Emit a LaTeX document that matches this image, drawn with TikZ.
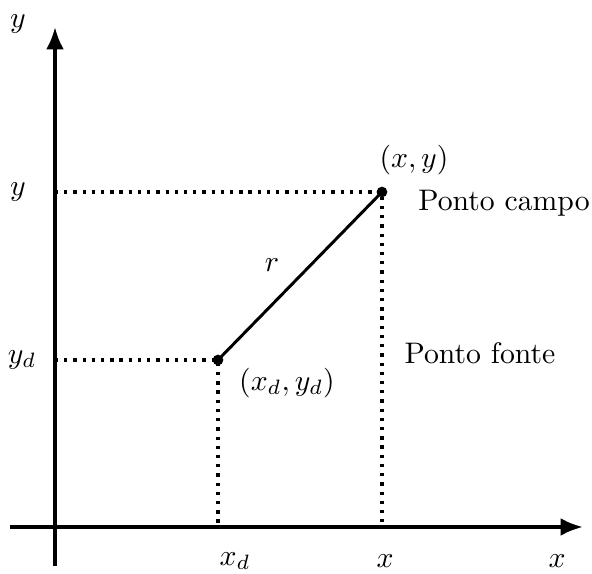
\documentclass[tikz,border=0pt]{standalone}
\usepackage{tikz}
\usetikzlibrary{arrows.meta,positioning}

\begin{document}
\begin{tikzpicture}[
    x=0.01183cm,y=-0.01183cm,
    axis/.style={-{Latex[length=7.5pt,width=6pt]},line width=1.3pt},
    guide/.style={dotted,line width=1.1pt},
    point/.style={circle,fill,inner sep=0pt,minimum size=3.6pt},
    lbl/.style={inner sep=0pt}
]
\useasboundingbox (0,0) rectangle (592,574);
% axes
\coordinate (xstart) at (10,527);
\coordinate (xend) at (583,527);
\coordinate (ystart) at (55,566);
\coordinate (yend) at (55,27);
\draw[axis] (xstart) -- (xend);
\draw[axis] (ystart) -- (yend);

% points
\node[point] (campo) at (382,192) {};
\node[point] (fonte) at (218,360) {};
\coordinate (campoy) at (55,192);
\coordinate (campox) at (382,527);
\coordinate (fontey) at (55,360);
\coordinate (fontex) at (218,527);

\draw[guide] (campoy) -- (campo.center) -- (campox);
\draw[guide] (fontey) -- (fonte.center) -- (fontex);
\draw[line width=1pt] (fonte.center) -- (campo.center);

% labels
\node[lbl] (ylab) at (18,24) {$y$};
\node[lbl] (yval) at (18,192) {$y$};
\node[lbl] (ydval) at (22,360) {$y_d$};
\node[lbl] (xdval) at (235,561) {$x_d$};
\node[lbl] (xval) at (385,561) {$x$};
\node[lbl] (xlab) at (557,561) {$x$};
\node[lbl] (rlab) at (272,265) {$r$};
\node[lbl] (campolab) at (414,160) {$(x,y)$};
\node[lbl] (campotxt) at (504,203) {Ponto campo};
\node[lbl] (fontelab) at (287,383) {$(x_d,y_d)$};
\node[lbl] (fontetxt) at (480,353) {Ponto fonte};
\end{tikzpicture}
\end{document}
